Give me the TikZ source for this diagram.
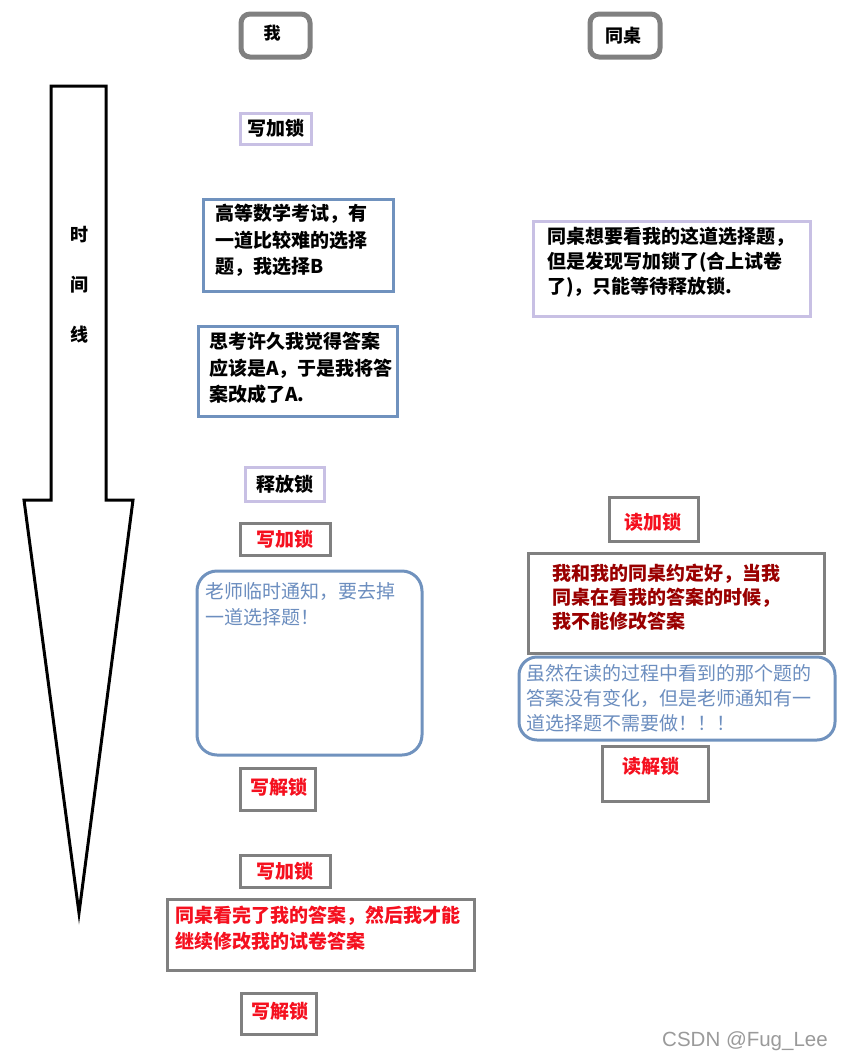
\documentclass[tikz,border=0pt]{standalone}
\usepackage{fontspec}
\setmainfont{Noto Sans CJK SC}
\newfontfamily\wmfont{Liberation Sans}
\definecolor{boxgray}{HTML}{808080}
\definecolor{boxblue}{HTML}{7092BE}
\definecolor{lav}{HTML}{C8C0E4}
\definecolor{txtred}{HTML}{F5101F}
\definecolor{txtdark}{HTML}{9A0000}
\definecolor{txtblue}{HTML}{6C8EBF}
\definecolor{wmgray}{HTML}{9A9A9A}
\tikzset{
  x=1pt, y=-1pt,
  gbox/.style={draw=boxgray, line width=3pt, inner sep=0pt, rectangle},
  bbox/.style={draw=boxblue, line width=3pt, inner sep=0pt, rectangle},
  lbox/.style={draw=lav, line width=3pt, inner sep=0pt, rectangle},
  hbox/.style={draw=boxgray, line width=5pt, inner sep=0pt, rounded corners=9pt},
  rbox/.style={draw=boxblue, line width=3pt, inner sep=0pt, rounded corners=20pt},
  lbl/.style={inner sep=0pt, font=\fontsize{19}{26}\selectfont\bfseries},
  tlbl/.style={inner sep=0pt, font=\fontsize{18}{18}\selectfont\bfseries},
  para/.style={anchor=north west, align=left, inner sep=0pt, font=\fontsize{19}{26.5}\selectfont\bfseries},
  parab/.style={anchor=north west, align=left, inner sep=0pt, font=\fontsize{19}{26}\selectfont, text=txtblue},
}
\begin{document}
\begin{tikzpicture}
\useasboundingbox[fill=white] (0,0) rectangle (845,1060);

% time line arrow
\draw[line width=3pt, line join=miter] (51,86) -- (106,86) -- (106,500) -- (133,500) -- (79,913) -- (24,500) -- (51,500) -- cycle;
\node[tlbl] (t1) at (79,235) {时};
\node[tlbl] (t2) at (79,285) {间};
\node[tlbl] (t3) at (79,335) {线};

% headers
\node[hbox, minimum width=69pt, minimum height=43pt] (me) at (275.5,35.5) {};
\node[lbl, font=\fontsize{17}{17}\selectfont\bfseries] (metx) at (272,33) {我};
\node[hbox, minimum width=70pt, minimum height=43pt] (desk) at (625,35.5) {};
\node[lbl, font=\fontsize{18}{18}\selectfont\bfseries] (desktx) at (623,36) {同桌};

% left column
\node[lbox, minimum width=71pt, minimum height=31pt, lbl] (wl1) at (275.5,128.5) {写加锁};

\node[bbox, minimum width=190pt, minimum height=92pt] (gd) at (298,245) {};
\node[para] (gdtx) at (215,204) {高等数学考试，有\\一道比较难的选择\\题，我选择B};

\node[bbox, minimum width=199pt, minimum height=90pt] (sk) at (297.5,371) {};
\node[para] (sktx) at (209,332) {思考许久我觉得答案\\应该是A，于是我将答\\案改成了A.};

\node[lbox, minimum width=79pt, minimum height=34pt, lbl] (sf) at (284.5,484) {释放锁};

\node[gbox, minimum width=90pt, minimum height=32pt, lbl, text=txtred] (wl2) at (285,539) {写加锁};

\node[rbox, minimum width=225pt, minimum height=184pt] (ls) at (309.5,663) {};
\node[parab] (lstx) at (205,582) {老师临时通知，要去掉\\一道选择题！};

\node[gbox, minimum width=75pt, minimum height=42pt] (wu1) at (277.5,789) {};
\node[lbl, text=txtred] (wu1tx) at (279,787) {写解锁};

\node[gbox, minimum width=90pt, minimum height=32pt, lbl, text=txtred] (wl3) at (285,871) {写加锁};

\node[gbox, minimum width=307pt, minimum height=71pt] (kw) at (320.5,934.5) {};
\node[para, text=txtred, font=\fontsize{19}{26}\selectfont\bfseries] (kwtx) at (175,906) {同桌看完了我的答案，然后我才能\\继续修改我的试卷答案};

\node[gbox, minimum width=75pt, minimum height=41pt] (wu2) at (278.5,1013.5) {};
\node[lbl, text=txtred] (wu2tx) at (280,1011) {写解锁};

% right column
\node[lbox, minimum width=277pt, minimum height=95pt] (tz) at (671.5,268.5) {};
\node[para, font=\fontsize{19}{25}\selectfont\bfseries] (tztx) at (547,227) {同桌想要看我的这道选择题，\\但是发现写加锁了(合上试卷\\了)，只能等待释放锁.};

\node[gbox, minimum width=89pt, minimum height=44pt] (rl) at (653.5,519) {};
\node[lbl, text=txtred] (rltx) at (653,522) {读加锁};

\node[gbox, minimum width=296pt, minimum height=100pt] (yd) at (676,603) {};
\node[para, text=txtdark, font=\fontsize{19}{24}\selectfont\bfseries] (ydtx) at (552,564) {我和我的同桌约定好，当我\\同桌在看我的答案的时候，\\我不能修改答案};

\node[rbox, rounded corners=18pt, minimum width=316pt, minimum height=83pt] (sr) at (677,698.5) {};
\node[parab, font=\fontsize{19}{25}\selectfont] (srtx) at (526,664) {虽然在读的过程中看到的那个题的\\答案没有变化，但是老师通知有一\\道选择题不需要做！！！};

\node[gbox, minimum width=106pt, minimum height=55pt] (ru) at (655,773.5) {};
\node[lbl, text=txtred] (rutx) at (651,766) {读解锁};

% watermark
\node[inner sep=0pt, text=wmgray, font=\wmfont\fontsize{20.5}{20.5}\selectfont] (wm) at (745,1041) {CSDN @Fug\_Lee};
\end{tikzpicture}
\end{document}
